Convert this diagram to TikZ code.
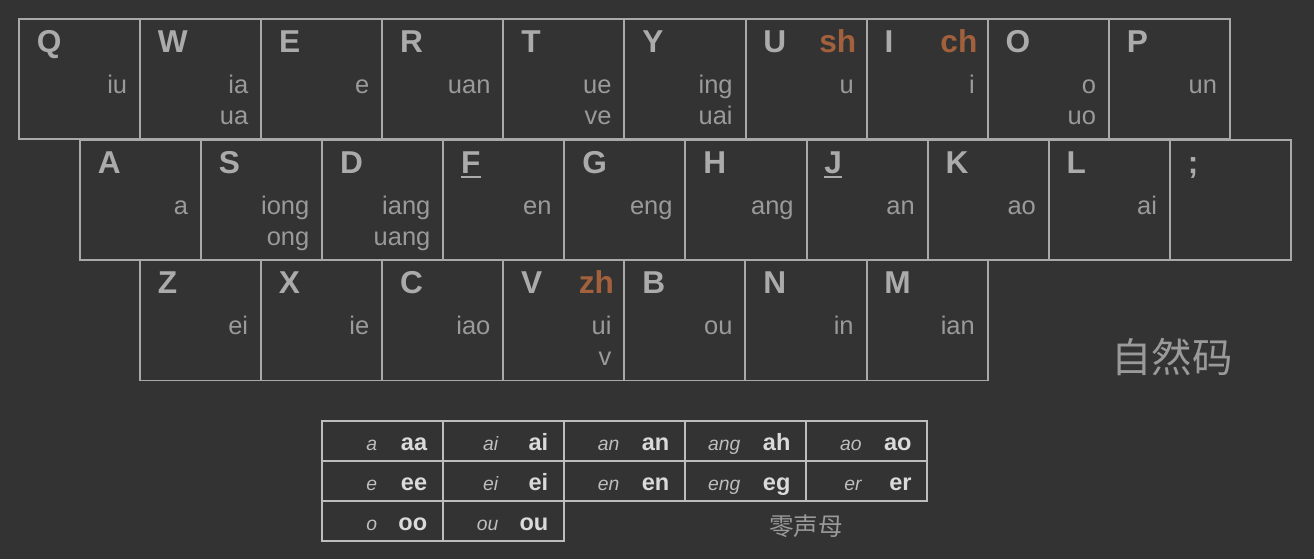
\documentclass[tikz,border=0pt]{standalone}
\usepackage{fontspec}
\setmainfont{Liberation Sans}
\newfontfamily\cjk{Noto Sans CJK SC}
\definecolor{bgcol}{HTML}{333333}
\definecolor{keyline}{HTML}{A9A9A9}
\definecolor{lettercol}{HTML}{ABABAB}
\definecolor{fincol}{HTML}{9A9A9A}
\definecolor{initcol}{HTML}{A2613C}
\definecolor{celline}{HTML}{BDBDBD}
\definecolor{bigcol}{HTML}{DADADA}
\definecolor{smcol}{HTML}{BEBEBE}
\definecolor{cjkcol}{HTML}{9A9A9A}

\begin{document}
\begin{tikzpicture}[x=0.02cm, y=-0.02cm,
  key/.style={draw=keyline, line width=1.1pt, minimum width=2.422cm, minimum height=2.4cm, inner sep=0pt},
  letter/.style={anchor=base west, xshift=0.37cm, yshift=-0.68cm, inner sep=0pt, text=lettercol, font=\fontsize{18}{21}\selectfont\bfseries},
  initial/.style={anchor=base east, xshift=-0.22cm, yshift=-0.68cm, inner sep=0pt, text=initcol, font=\fontsize{18}{21}\selectfont\bfseries},
  fin/.style={anchor=base east, xshift=-0.27cm, yshift=-1.5cm, inner sep=0pt, text=fincol, font=\fontsize{14.5}{17}\selectfont},
  fintwo/.style={fin, yshift=-0.62cm},
  uline/.style={draw=lettercol, line width=1.4pt},
  cell/.style={draw=celline, line width=1.1pt, minimum width=2.422cm, minimum height=0.8cm, inner sep=0pt},
  sm/.style={anchor=base east, xshift=-1.33cm, yshift=-0.18cm, inner sep=0pt, text=smcol, font=\fontsize{11}{13}\selectfont\itshape},
  big/.style={anchor=base east, xshift=-0.33cm, yshift=-0.18cm, inner sep=0pt, text=bigcol, font=\fontsize{13.4}{15}\selectfont\bfseries},
  cjktext/.style={inner sep=0pt, text=cjkcol}]
\useasboundingbox[fill=bgcol] (0,0) rectangle (1314,559);

% top row
\node[key, label={[letter]north west:Q}, label={[fin]north east:iu}] (q) at (79.5,79) {};
\node[key, label={[letter]north west:W}, label={[fin]north east:ia}, label={[fintwo]north east:ua}] (w) at (200.6,79) {};
\node[key, label={[letter]north west:E}, label={[fin]north east:e}] (e) at (321.7,79) {};
\node[key, label={[letter]north west:R}, label={[fin]north east:uan}] (r) at (442.8,79) {};
\node[key, label={[letter]north west:T}, label={[fin]north east:ue}, label={[fintwo]north east:ve}] (t) at (563.9,79) {};
\node[key, label={[letter]north west:Y}, label={[fin]north east:ing}, label={[fintwo]north east:uai}] (y) at (685,79) {};
\node[key, label={[letter]north west:U}, label={[initial]north east:sh}, label={[fin]north east:u}] (u) at (806.1,79) {};
\node[key, label={[letter]north west:I}, label={[initial]north east:ch}, label={[fin]north east:i}] (i) at (927.2,79) {};
\node[key, label={[letter]north west:O}, label={[fin]north east:o}, label={[fintwo]north east:uo}] (o) at (1048.3,79) {};
\node[key, label={[letter]north west:P}, label={[fin]north east:un}] (p) at (1169.4,79) {};

% home row
\node[key, label={[letter]north west:A}, label={[fin]north east:a}] (a) at (140.5,200) {};
\node[key, label={[letter]north west:S}, label={[fin]north east:iong}, label={[fintwo]north east:ong}] (s) at (261.6,200) {};
\node[key, label={[letter]north west:D}, label={[fin]north east:iang}, label={[fintwo]north east:uang}] (d) at (382.7,200) {};
\node[key, label={[letter, name=flab]north west:F}, label={[fin]north east:en}] (f) at (503.8,200) {};
\node[key, label={[letter]north west:G}, label={[fin]north east:eng}] (g) at (624.9,200) {};
\node[key, label={[letter]north west:H}, label={[fin]north east:ang}] (h) at (746,200) {};
\node[key, label={[letter, name=jlab]north west:J}, label={[fin]north east:an}] (j) at (867.1,200) {};
\node[key, label={[letter]north west:K}, label={[fin]north east:ao}] (k) at (988.2,200) {};
\node[key, label={[letter]north west:L}, label={[fin]north east:ai}] (l) at (1109.3,200) {};
\node[key, label={[letter]north west:;}] (semi) at (1230.4,200) {};

\draw[uline] ([yshift=-0.08cm]flab.base west) -- ([yshift=-0.08cm]flab.base east);
\draw[uline] ([yshift=-0.08cm]jlab.base west) -- ([yshift=-0.08cm]jlab.base east);

% bottom row
\node[key, label={[letter]north west:Z}, label={[fin]north east:ei}] (z) at (200.5,320.5) {};
\node[key, label={[letter]north west:X}, label={[fin]north east:ie}] (x) at (321.6,320.5) {};
\node[key, label={[letter]north west:C}, label={[fin]north east:iao}] (c) at (442.7,320.5) {};
\node[key, label={[letter]north west:V}, label={[initial]north east:zh}, label={[fin]north east:ui}, label={[fintwo]north east:v}] (v) at (563.8,320.5) {};
\node[key, label={[letter]north west:B}, label={[fin]north east:ou}] (b) at (684.9,320.5) {};
\node[key, label={[letter]north west:N}, label={[fin]north east:in}] (n) at (806,320.5) {};
\node[key, label={[letter]north west:M}, label={[fin]north east:ian}] (m) at (927.1,320.5) {};

\node[cjktext, font=\cjk\fontsize{23}{25}\selectfont] (ziran) at (1172,357) {自然码};

% zero initials
\node[cell, label={[sm]east:a}, label={[big]east:aa}] (aa) at (382.5,441) {};
\node[cell, label={[sm]east:ai}, label={[big]east:ai}] (ai) at (503.6,441) {};
\node[cell, label={[sm]east:an}, label={[big]east:an}] (an) at (624.7,441) {};
\node[cell, label={[sm]east:ang}, label={[big]east:ah}] (ah) at (745.8,441) {};
\node[cell, label={[sm]east:ao}, label={[big]east:ao}] (ao) at (866.9,441) {};
\node[cell, label={[sm]east:e}, label={[big]east:ee}] (ee) at (382.5,481) {};
\node[cell, label={[sm]east:ei}, label={[big]east:ei}] (ei) at (503.6,481) {};
\node[cell, label={[sm]east:en}, label={[big]east:en}] (en) at (624.7,481) {};
\node[cell, label={[sm]east:eng}, label={[big]east:eg}] (eg) at (745.8,481) {};
\node[cell, label={[sm]east:er}, label={[big]east:er}] (er) at (866.9,481) {};
\node[cell, label={[sm]east:o}, label={[big]east:oo}] (oo) at (382.5,521) {};
\node[cell, label={[sm]east:ou}, label={[big]east:ou}] (ou) at (503.6,521) {};

\node[cjktext, font=\cjk\fontsize{14}{16}\selectfont] (zero) at (806,526) {零声母};
\end{tikzpicture}
\end{document}
